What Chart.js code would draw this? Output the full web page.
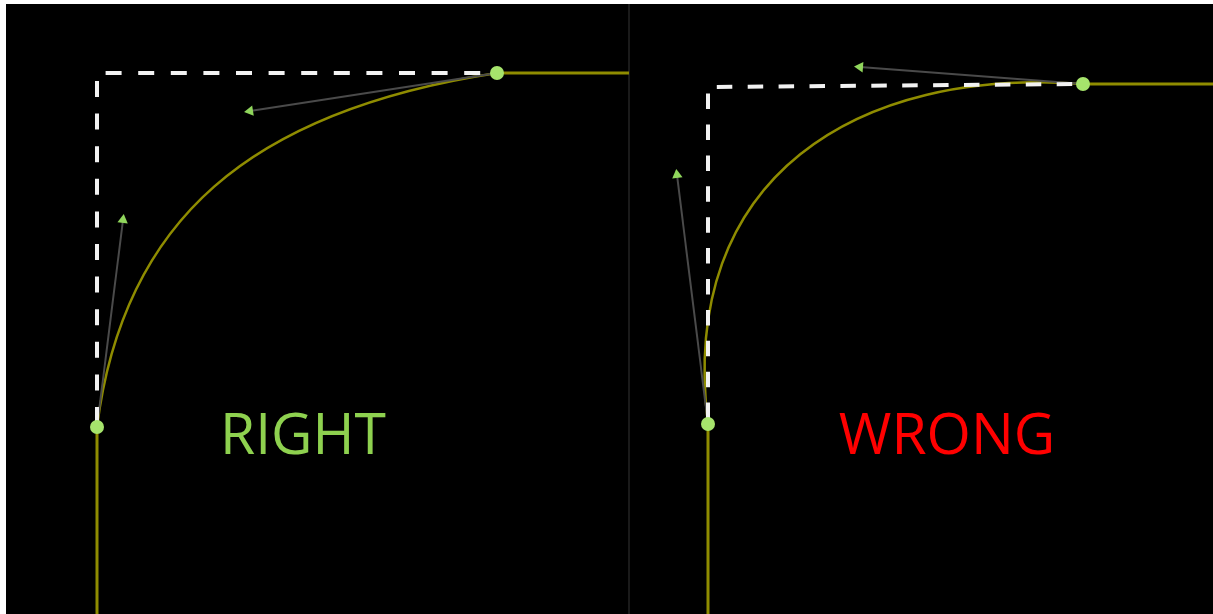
<!DOCTYPE html>
<html>
<head>
<meta charset="utf-8">
<script src="https://cdn.jsdelivr.net/npm/chart.js@4/dist/chart.umd.min.js"></script>
<style>
  html, body { margin: 0; padding: 0; background: #fff; }
  #panel { position: absolute; left: 6px; top: 4px; width: 1207px; height: 610px; background: #000; }
</style>
</head>
<body>
<div id="panel"><canvas id="stage"></canvas></div>
<script>
// everything is in page pixels (x right, y down)
// left panel: RIGHT
const rightAnchors = [{x: 97, y: 427}, {x: 497, y: 73}];
const rightHandles = [{x: 123, y: 220}, {x: 250, y: 111}];
const rightGuide = [{x: 97, y: 427}, {x: 97, y: 73}, {x: 497, y: 73}];
const rightStems = [[{x: 97, y: 614}, {x: 97, y: 427}], [{x: 497, y: 73}, {x: 629, y: 73}]];
// right panel: WRONG
const wrongAnchors = [{x: 708, y: 424}, {x: 1083, y: 84}];
const wrongHandles = [{x: 677, y: 175}, {x: 860, y: 67}];
const wrongGuide = [{x: 708, y: 424}, {x: 708, y: 87}, {x: 1083, y: 84}];
const wrongStems = [[{x: 708, y: 614}, {x: 708, y: 424}], [{x: 1083, y: 84}, {x: 1213, y: 84}]];
const divider = [{x: 629, y: 4}, {x: 629, y: 614}];
const labelText = ['RIGHT', 'WRONG'];
const labelPos = [{x: 303, y: 454}, {x: 947, y: 454}];

const YELLOW = '#8f8c00';
const GREEN = '#a6e46c';
const canvas = document.getElementById('stage');

// handle angle for the triangle heads (points up at 0deg)
function headAngle(from, to) {
    return Math.atan2(to.x - from.x, from.y - to.y) * 180 / Math.PI;
}

function lineSet(data, color, width, order, extra) {
    return Object.assign({
        data: data,
        showLine: true,
        borderColor: color,
        borderWidth: width,
        pointRadius: 0,
        fill: false,
        order: order
    }, extra || {});
}

const datasets = [];
// anchor points
datasets.push({data: rightAnchors.concat(wrongAnchors), showLine: false, pointRadius: 7, pointBackgroundColor: GREEN, pointBorderWidth: 0, order: 0});
// arrow heads on the handles
const anchorsAll = rightAnchors.concat(wrongAnchors);
const handlesAll = rightHandles.concat(wrongHandles);
datasets.push({
    data: handlesAll,
    showLine: false,
    pointStyle: 'triangle',
    pointRadius: 6,
    pointBackgroundColor: '#90d65c',
    pointBorderWidth: 0,
    rotation: handlesAll.map((h, i) => headAngle(anchorsAll[i], h)),
    order: 1
});
// dashed guides
datasets.push(lineSet(rightGuide, '#f2f2f2', 4, 2, {borderDash: [16, 16.6], borderDashOffset: 28.6, borderJoinStyle: 'miter'}));
datasets.push(lineSet(wrongGuide, '#f2f2f2', 4, 2, {borderDash: [15.5, 15.4], borderDashOffset: 25, borderJoinStyle: 'miter'}));
// handle sticks
for (let i = 0; i < anchorsAll.length; ++i) {
    datasets.push(lineSet([anchorsAll[i], handlesAll[i]], '#4a4a4a', 2, 3));
}
// straight parts of the path
rightStems.concat(wrongStems).forEach(s => datasets.push(lineSet(s, YELLOW, 3, 4)));
datasets.push(lineSet(divider, '#1f1f1f', 1, 5));

// the curve itself, drawn from anchors and handles through the scales
const curvePlugin = {
    id: 'curves',
    beforeDatasetsDraw(chart) {
        const sx = chart.scales.x, sy = chart.scales.y, ctx = chart.ctx;
        const px = p => [sx.getPixelForValue(p.x), sy.getPixelForValue(p.y)];
        [[rightAnchors, rightHandles], [wrongAnchors, wrongHandles]].forEach(([a, h]) => {
            const p0 = px(a[0]), c1 = px(h[0]), c2 = px(h[1]), p3 = px(a[1]);
            ctx.save();
            ctx.strokeStyle = YELLOW;
            ctx.lineWidth = 2.5;
            ctx.beginPath();
            ctx.moveTo(p0[0], p0[1]);
            ctx.bezierCurveTo(c1[0], c1[1], c2[0], c2[1], p3[0], p3[1]);
            ctx.stroke();
            ctx.restore();
        });
    },
    afterDatasetsDraw(chart) {
        const sx = chart.scales.x, sy = chart.scales.y, ctx = chart.ctx;
        const colors = ['#8ed14f', '#ff0000'];
        ctx.save();
        ctx.font = '57px "Open Sans"';
        ctx.textAlign = 'center';
        ctx.textBaseline = 'alphabetic';
        labelText.forEach((t, i) => {
            ctx.fillStyle = colors[i];
            ctx.fillText(t, sx.getPixelForValue(labelPos[i].x), sy.getPixelForValue(labelPos[i].y));
        });
        ctx.restore();
    }
};

new Chart(canvas, {
    type: 'scatter',
    data: {datasets: datasets},
    options: {
        responsive: true,
        maintainAspectRatio: false,
        animation: false,
        layout: {padding: 0, autoPadding: false},
        plugins: {legend: {display: false}, tooltip: {enabled: false}},
        events: [],
        scales: {
            x: {type: 'linear', min: 6, max: 1213, display: false},
            y: {type: 'linear', min: 4, max: 614, reverse: true, display: false}
        },
        elements: {line: {tension: 0}}
    },
    plugins: [curvePlugin]
});
</script>
</body>
</html>
